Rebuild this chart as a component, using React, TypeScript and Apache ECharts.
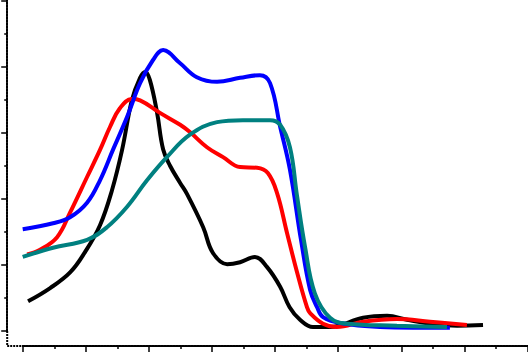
import React, { useEffect, useRef } from "react";
import * as echarts from "echarts";

// x in tick units (0..16), y in major-tick units (0..5)
const blackCurve: [number, number][] = [
  [0.17, 0.45], [0.87, 0.65], [1.51, 0.89], [1.97, 1.19], [2.45, 1.6], [2.83, 2.13],
  [3.15, 2.74], [3.46, 3.49], [3.72, 3.83], [3.88, 3.92], [4.03, 3.8], [4.26, 3.3],
  [4.45, 2.75], [4.67, 2.5], [4.99, 2.24], [5.21, 2.07], [5.72, 1.57], [6.03, 1.18],
  [6.48, 1.01], [6.89, 1.04], [7.36, 1.12], [7.74, 0.97], [8.16, 0.67], [8.46, 0.36],
  [8.79, 0.17], [9.2, 0.06], [9.74, 0.06], [10.79, 0.2], [11.55, 0.23], [12.18, 0.17],
  [12.91, 0.11], [13.77, 0.08], [14.59, 0.09],
];

const redCurve: [number, number][] = [
  [0.14, 1.16], [0.55, 1.23], [1.09, 1.42], [1.5, 1.79], [2.04, 2.33], [2.45, 2.74],
  [2.77, 3.09], [3.08, 3.37], [3.46, 3.51], [3.72, 3.49], [4.35, 3.3], [4.99, 3.12],
  [5.3, 3.01], [5.84, 2.78], [6.35, 2.63], [6.89, 2.48], [7.43, 2.47], [7.77, 2.39],
  [8.06, 2.09], [8.38, 1.48], [8.7, 0.88], [9.01, 0.36], [9.11, 0.27], [9.52, 0.11],
  [9.96, 0.06], [10.79, 0.14], [11.86, 0.18], [12.91, 0.14], [14.08, 0.09],
];

const blueCurve: [number, number][] = [
  [0, 1.54], [0.96, 1.63], [1.5, 1.72], [2.04, 1.94], [2.45, 2.28], [2.86, 2.74],
  [3.31, 3.24], [3.72, 3.75], [4.13, 4.1], [4.45, 4.25], [4.99, 4.05], [5.52, 3.84],
  [6.16, 3.77], [6.89, 3.83], [7.52, 3.87], [7.84, 3.75], [8.16, 3.09], [8.47, 2.44],
  [8.82, 1.38], [9.11, 0.62], [9.33, 0.36], [9.52, 0.21], [10.06, 0.12], [11.32, 0.06],
  [12.37, 0.05], [13.54, 0.05],
];

const tealCurve: [number, number][] = [
  [0, 1.12], [0.96, 1.26], [2.04, 1.38], [2.67, 1.57], [3.31, 1.88], [3.94, 2.28],
  [4.57, 2.63], [5.3, 2.97], [6.16, 3.16], [6.98, 3.19], [7.84, 3.19], [8.16, 3.12],
  [8.47, 2.78], [8.69, 2.06], [8.95, 1.27], [9.26, 0.57], [9.74, 0.2], [10.28, 0.11],
  [11.86, 0.08], [13.45, 0.06],
];

const seriesList = [
  { name: "black", color: "#000000", data: blackCurve },
  { name: "red", color: "#ff0000", data: redCurve },
  { name: "blue", color: "#0000ff", data: blueCurve },
  { name: "teal", color: "#008080", data: tealCurve },
];

const axisDash = [2, 1];

export default function App() {
  const ref = useRef<HTMLDivElement>(null);
  useEffect(() => {
    if (!ref.current) return;
    const chart = echarts.init(ref.current, null, { renderer: "svg" });
    const axisCommon = {
      axisLine: { show: true, onZero: false, lineStyle: { color: "#000", width: 2, type: axisDash } },
      axisTick: { show: true, inside: false, length: 6, lineStyle: { color: "#000", width: 1.5 } },
      minorTick: { show: true, splitNumber: 2, length: 3, lineStyle: { color: "#000", width: 1.5 } },
      axisLabel: { show: false },
      splitLine: { show: false },
      minorSplitLine: { show: false },
    };
    chart.setOption({
      animation: false,
      backgroundColor: "#ffffff",
      grid: { left: 22.7, right: 0.5, top: 0.5, bottom: 23, containLabel: false },
      xAxis: { type: "value", min: 0, max: 16, interval: 2, position: "bottom", offset: 15, ...axisCommon },
      yAxis: { type: "value", min: 0, max: 5, interval: 1, position: "left", offset: 15.5, ...axisCommon },
      graphic: [
        {
          type: "line",
          shape: { x1: 7.2, y1: 331, x2: 7.2, y2: 346 },
          style: { stroke: "#000", lineWidth: 2, lineDash: axisDash },
        },
        {
          type: "line",
          shape: { x1: 7.2, y1: 346, x2: 22.7, y2: 346 },
          style: { stroke: "#000", lineWidth: 2, lineDash: axisDash },
        },
      ],
      series: seriesList.map((s) => ({
        name: s.name,
        type: "line",
        data: s.data,
        smooth: 0.4,
        symbol: "none",
        clip: false,
        lineStyle: { color: s.color, width: 4 },
        itemStyle: { color: s.color },
      })),
    });
    return () => chart.dispose();
  }, []);
  return (
    <div
      ref={ref}
      style={{ position: "fixed", left: 0, top: 0, width: 528, height: 354, background: "#fff" }}
    />
  );
}
